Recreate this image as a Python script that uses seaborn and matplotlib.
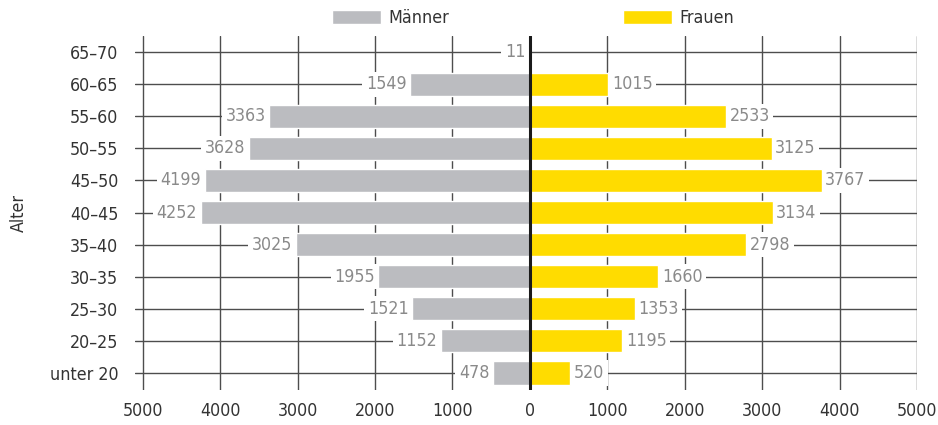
import numpy as np
import pandas as pd
import matplotlib
matplotlib.use("Agg")
import matplotlib.pyplot as plt
import seaborn as sns
from matplotlib.patches import Patch
from matplotlib.ticker import FuncFormatter

# Daten
altersgruppen = ["65–70", "60–65", "55–60", "50–55", "45–50", "40–45",
                 "35–40", "30–35", "25–30", "20–25", "unter 20"]
maenner = [11, 1549, 3363, 3628, 4199, 4252, 3025, 1955, 1521, 1152, 478]
frauen = [np.nan, 1015, 2533, 3125, 3767, 3134, 2798, 1660, 1353, 1195, 520]
x_ticks = [-5000, -4000, -3000, -2000, -1000, 0, 1000, 2000, 3000, 4000, 5000]

grau = "#bbbcc0"
gelb = "#ffdc00"
linie = "#4d4d4d"

sns.set_style("white")
plt.rcParams["font.family"] = ["DejaVu Sans"]
plt.rcParams["font.stretch"] = "condensed"

df = pd.DataFrame({"Alter": altersgruppen, "Männer": maenner, "Frauen": frauen})
df["Männer_neg"] = -df["Männer"]

fig = plt.figure(figsize=(9.38, 4.25), dpi=100)
ax = fig.add_axes([0.1439, 0.0824, 0.9776 - 0.1439, 0.9153 - 0.0824])

sns.barplot(data=df, x="Männer_neg", y="Alter", orient="h", color=grau,
            width=0.72, saturation=1, ax=ax, zorder=3)
sns.barplot(data=df, x="Frauen", y="Alter", orient="h", color=gelb,
            width=0.72, saturation=1, ax=ax, zorder=3)

ax.set_xlim(-5100, 5000)
ax.set_ylim(10.53, -0.5)
ax.set_xticks(x_ticks)
ax.xaxis.set_major_formatter(FuncFormatter(lambda v, p: f"{abs(int(v))}"))
ax.grid(True, axis="both", color=linie, linewidth=1.0, zorder=0)
ax.set_axisbelow(True)
for s in ax.spines.values():
    s.set_visible(False)
ax.tick_params(axis="both", length=0, labelsize=12.8, colors="#333333")
ax.tick_params(axis="y", pad=12)
ax.tick_params(axis="x", pad=9)
ax.axvline(0, color="#1a1a1a", linewidth=2.2, zorder=4)
ax.set_xlabel("")
ax.set_ylabel("Alter", fontsize=12.8, color="#333333", labelpad=16)

# Werte an den Balken
box = dict(facecolor="white", edgecolor="none", pad=2.5)
for i, (m, f) in enumerate(zip(maenner, frauen)):
    ax.annotate(f"{m}", (-m, i), xytext=(-2.5, 0), textcoords="offset points",
                ha="right", va="center", fontsize=12.8, color="#8a8a8a",
                bbox=box, zorder=2.9)
    if not np.isnan(f):
        ax.annotate(f"{int(f)}", (f, i), xytext=(2.5, 0), textcoords="offset points",
                    ha="left", va="center", fontsize=12.8, color="#8a8a8a",
                    bbox=box, zorder=2.9)

# Legende: zwei einzelne Einträge
for h, xpos in [(Patch(facecolor=grau, label="Männer"), 332 / 938),
                (Patch(facecolor=gelb, label="Frauen"), 623 / 938)]:
    fig.legend(handles=[h], loc="center left", bbox_to_anchor=(xpos, 1 - 18 / 425),
               frameon=False, fontsize=12.8, handlelength=2.75, handleheight=0.8,
               handletextpad=0.4, borderpad=0, borderaxespad=0,
               labelcolor="#333333")

fig.savefig("out.png", dpi=100)
